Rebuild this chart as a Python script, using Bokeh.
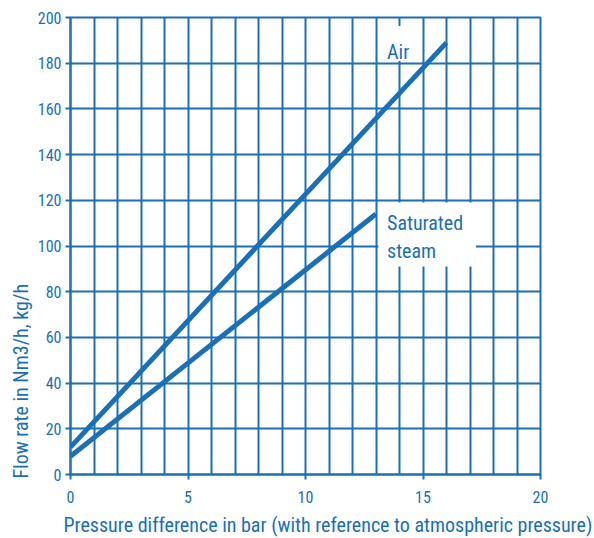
from bokeh.plotting import figure
from bokeh.models import Label, SingleIntervalTicker, FixedTicker, Range1d, BoxAnnotation, Title
from bokeh.embed import file_html
from bokeh.resources import INLINE

# data
air_x = [0, 16]
air_y = [12, 189]
steam_x = [0, 13]
steam_y = [8, 114]
x_ticks = [0, 5, 10, 15, 20]
y_ticks = [0, 20, 40, 60, 80, 100, 120, 140, 160, 180, 200]
x_title = "Pressure difference in bar (with reference to atmospheric pressure)"
y_title = "Flow rate in Nm3/h, kg/h"

BLUE = "#1a6fb7"
FONT = "Roboto Condensed"

p = figure(frame_width=470, frame_height=457,
           x_range=Range1d(0, 20), y_range=Range1d(0, 200),
           output_backend="svg", toolbar_location=None,
           min_border_left=70, min_border_top=17, min_border_right=54, min_border_bottom=0)
p.background_fill_color = "white"
p.border_fill_color = "white"
p.outline_line_color = BLUE
p.outline_line_width = 2
p.outline_line_alpha = 1

p.xgrid.ticker = SingleIntervalTicker(interval=1)
p.ygrid.ticker = SingleIntervalTicker(interval=20)
for g in (p.xgrid, p.ygrid):
    g.grid_line_color = BLUE
    g.grid_line_width = 2
    g.grid_line_alpha = 1

p.xaxis.ticker = FixedTicker(ticks=x_ticks)
p.yaxis.ticker = FixedTicker(ticks=y_ticks)
for ax in (p.xaxis, p.yaxis):
    ax.axis_line_color = BLUE
    ax.axis_line_width = 2
    ax.major_tick_line_color = BLUE
    ax.major_tick_line_width = 2
    ax.major_tick_out = 5
    ax.major_tick_in = 0
    ax.minor_tick_line_color = None
    ax.major_label_text_color = BLUE
    ax.major_label_text_font = FONT
    ax.major_label_text_font_size = "16px"
p.xaxis.major_label_standoff = 11
p.yaxis.major_label_standoff = 4

p.line(air_x, air_y, line_color=BLUE, line_width=5)
p.line(steam_x, steam_y, line_color=BLUE, line_width=5)

p.add_layout(BoxAnnotation(left=13.2, right=14.8, top=196.3, bottom=181,
                           fill_color="white", fill_alpha=1, line_color=None))
p.add_layout(BoxAnnotation(left=13.1, right=17.25, top=119, bottom=91,
                           fill_color="white", fill_alpha=1, line_color=None))

def lab(x, y, t):
    p.add_layout(Label(x=x, y=y, text=t, text_color=BLUE, text_font=FONT,
                       text_font_size="20px", text_baseline="alphabetic"))

lab(13.47, 185, "Air")
lab(13.47, 110, "Saturated")
lab(13.47, 97.7, "steam")

p.add_layout(Title(text=x_title, align="left", offset=-7, standoff=10,
                   text_color=BLUE, text_font=FONT, text_font_size="20px",
                   text_font_style="normal"), "below")
p.add_layout(Title(text=y_title, align="left", offset=-4, standoff=4,
                   text_color=BLUE, text_font=FONT, text_font_size="20px",
                   text_font_style="normal"), "left")

open("out.html", "w").write(file_html(p, INLINE))
